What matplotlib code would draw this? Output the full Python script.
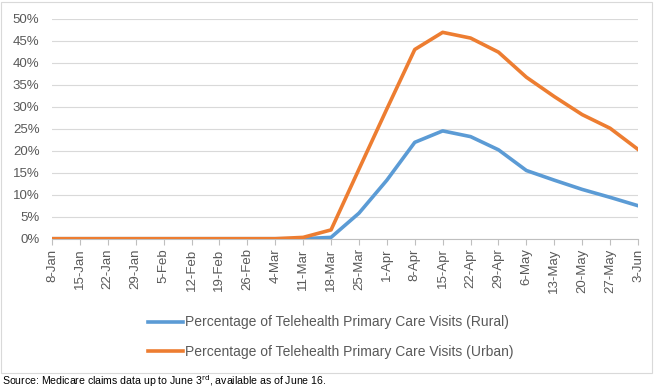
import numpy as np
import matplotlib.pyplot as plt
from matplotlib.patches import Rectangle

weeks = ["8-Jan", "15-Jan", "22-Jan", "29-Jan", "5-Feb", "12-Feb", "19-Feb", "26-Feb",
         "4-Mar", "11-Mar", "18-Mar", "25-Mar", "1-Apr", "8-Apr", "15-Apr", "22-Apr",
         "29-Apr", "6-May", "13-May", "20-May", "27-May", "3-Jun"]
rural = [0, 0, 0, 0, 0, 0, 0, 0, 0, 0, 0.3, 5.8, 13.3, 21.9, 24.5, 23.2,
         20.2, 15.5, 13.3, 11.2, 9.4, 7.5]
urban = [0, 0, 0, 0, 0, 0, 0, 0, 0, 0.3, 2.0, 15.8, 29.5, 43.0, 46.9, 45.6,
         42.4, 36.7, 32.3, 28.2, 25.1, 20.3]
y_ticks = list(range(0, 51, 5))

blue = "#5B9BD5"
orange = "#ED7D31"
grey_text = "#595959"

plt.rcParams["font.family"] = ["Liberation Sans", "DejaVu Sans"]

fig = plt.figure(figsize=(6.57, 3.89), dpi=100)
ax = fig.add_axes([52 / 657, (389 - 238.7) / 389, (638 - 52) / 657, 220 / 389])

x = np.arange(len(weeks))
ax.plot(x, rural, color=blue, lw=2.6, solid_joinstyle="round",
        label="Percentage of Telehealth Primary Care Visits (Rural)")
ax.plot(x, urban, color=orange, lw=2.6, solid_joinstyle="round",
        label="Percentage of Telehealth Primary Care Visits (Urban)")

ax.set_xlim(0, len(weeks) - 1)
ax.set_ylim(0, 50)
ax.set_yticks(y_ticks)
ax.set_yticklabels([f"{v}%" for v in y_ticks], color=grey_text, fontsize=9.5)
ax.set_xticks(x)
ax.set_xticklabels(weeks, rotation=90, color=grey_text, fontsize=9.5)
ax.tick_params(axis="y", length=0, pad=9)
ax.tick_params(axis="x", length=4, color="#BFBFBF", pad=3)
ax.grid(axis="y", color="#D9D9D9", lw=0.8)
ax.set_axisbelow(True)
for s in ["top", "right", "left"]:
    ax.spines[s].set_visible(False)
ax.spines["bottom"].set_color("#BFBFBF")
ax.spines["bottom"].set_zorder(0.5)

leg = fig.legend(loc="center", bbox_to_anchor=(331 / 657, 1 - 337 / 389), ncol=1,
                 frameon=False, fontsize=10, handlelength=2.5, handletextpad=0.15,
                 labelspacing=1.1)
for t in leg.get_texts():
    t.set_color(grey_text)

fig.patches.append(Rectangle((1 / 657, 1 - 372.5 / 389), 651 / 657, 371 / 389,
                             transform=fig.transFigure, fill=False,
                             edgecolor="#D9D9D9", lw=0.8))
fig.text(2 / 657, 1 - 381 / 389, "Source: Medicare claims data up to June 3$^{\\mathrm{rd}}$, available as of June 16.",
         fontsize=7.6, va="center", ha="left", color="black")

fig.savefig("out.png", dpi=100)
